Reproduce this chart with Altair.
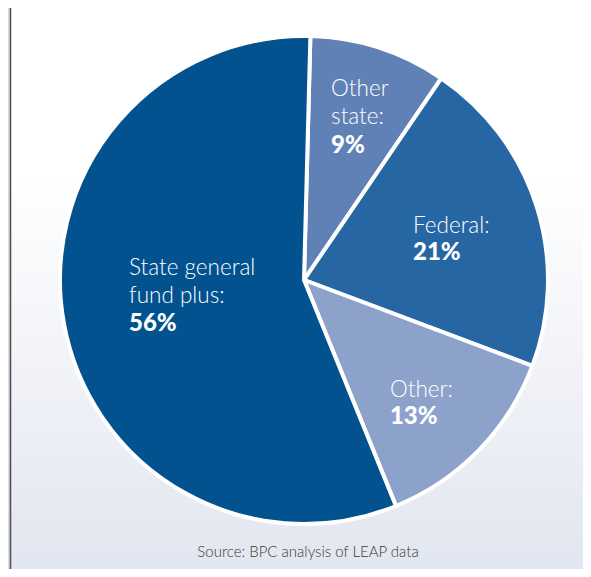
import math
import altair as alt
import pandas as pd

# ---- data ----
categories = ["Other state", "Federal", "Other", "State general fund plus"]
values = [9, 21, 13, 56]
name_lines = [["Other", "state:"], ["Federal:"], ["Other:"], ["State general", "fund plus:"]]
pct_labels = ["9%", "21%", "13%", "56%"]
colors = ["#5f81b6", "#2666a2", "#8da2cb", "#02528f"]
source_note = "Source: BPC analysis of LEAP data"

df = pd.DataFrame({
    "cat": categories,
    "value": values,
    "order": list(range(len(categories))),
    "name": ["\n".join(l) for l in name_lines],
    "pct": pct_labels,
})

# ---- layout / style ----
W, H = 575, 561
CX, CY = 296, 272
R = 244
FONT = "Lato"
start = math.radians(1.5)
total = sum(values)
theta_scale = alt.Scale(domain=[0, total], range=[start, start + 2 * math.pi])

one = pd.DataFrame({"a": [0]})

bg = alt.Chart(one).mark_rect(
    fill=alt.Gradient(
        gradient="linear",
        stops=[
            alt.GradientStop(color="#ffffff", offset=0),
            alt.GradientStop(color="#ffffff", offset=0.3),
            alt.GradientStop(color="#e2e6f0", offset=1),
        ],
        x1=0, x2=0, y1=0, y2=1,
    )
).encode(x=alt.value(3), x2=alt.value(W), y=alt.value(0), y2=alt.value(H))

frame = alt.Chart(one).mark_rule(stroke="#4d4d4d", strokeWidth=1.5).encode(
    x=alt.value(2.5), y=alt.value(0), y2=alt.value(H)
)

base = alt.Chart(df)

arc = base.mark_arc(outerRadius=R, stroke="white", strokeWidth=4).encode(
    theta=alt.Theta("value:Q", stack=True, scale=theta_scale),
    color=alt.Color("cat:N", scale=alt.Scale(domain=categories, range=colors), legend=None),
    order=alt.Order("order:Q"),
    x=alt.value(CX),
    y=alt.value(CY),
)

# per-label offsets (dx, dy of first baseline from polar anchor, line spacing)
label_style = {
    "Other state": (-22, -32, 28.5),
    "Federal": (-43.5, 1.7, 26.7),
    "Other": (-28.7, 5.2, 26.7),
    "State general fund plus": (-17.6, -33.6, 28),
}

text_layers = []
for cat, lines in zip(categories, name_lines):
    dx, dy, lh = label_style[cat]
    src = (
        base.transform_window(cum="sum(value)", sort=[alt.SortField("order")])
        .transform_calculate(mid="datum.cum - datum.value / 2")
        .transform_filter(alt.datum.cat == cat)
    )
    enc = dict(
        theta=alt.Theta("mid:Q", stack=False, scale=theta_scale),
        radius=alt.value(160),
        x=alt.value(CX),
        y=alt.value(CY),
    )
    name_t = src.mark_text(
        font=FONT, fontSize=22.5, fontWeight=300, color="white", align="left",
        baseline="alphabetic", lineBreak="\n", lineHeight=lh, dx=dx, dy=dy,
    ).encode(text="name:N", **enc)
    pct_t = src.mark_text(
        font=FONT, fontSize=24, fontWeight=900, color="white", align="left",
        baseline="alphabetic", dx=dx, dy=dy + lh * len(lines),
    ).encode(text="pct:N", **enc)
    text_layers += [name_t, pct_t]

source = alt.Chart(pd.DataFrame({"t": [source_note]})).mark_text(
    font=FONT, fontSize=15, fontWeight=300, color="#3a3a3a", align="center", baseline="alphabetic"
).encode(text="t:N", x=alt.value(300), y=alt.value(548.7))

chart = (
    alt.layer(bg, frame, arc, *text_layers, source)
    .properties(width=W, height=H, padding=0, autosize=alt.AutoSizeParams(type="none"))
    .configure_view(strokeWidth=0)
    .configure(background="#d5dae6")
)

chart.save("out.html", embed_options={"renderer": "svg", "actions": False})
